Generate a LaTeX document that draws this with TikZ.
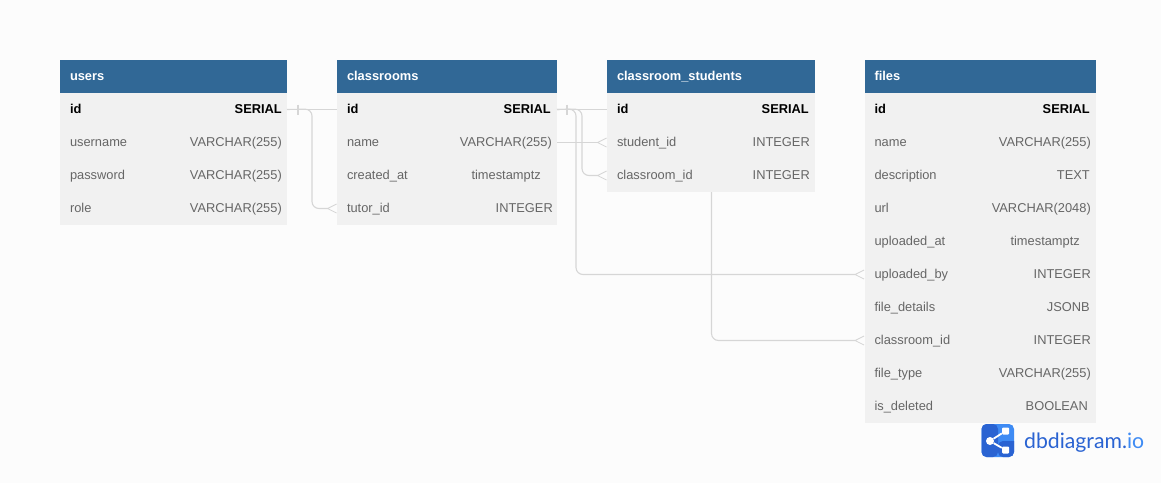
\documentclass[tikz,border=0pt]{standalone}
\usepackage{fontspec}
\setmainfont{Liberation Sans}
\newfontfamily\logofont{Lato}
\usetikzlibrary{arrows.meta,calc}
\definecolor{pagebg}{HTML}{FCFCFC}
\definecolor{headblue}{HTML}{316896}
\definecolor{rowgray}{HTML}{F1F1F1}
\definecolor{textgray}{HTML}{666666}
\definecolor{linegray}{HTML}{D6D6D6}
\definecolor{logodark}{HTML}{2A63D2}
\definecolor{logolight}{HTML}{3E8BF4}
\tikzset{
  head/.style={anchor=north west,fill=headblue,text=white,font=\fontsize{12.85}{15}\selectfont\bfseries,minimum height=33pt,inner xsep=10pt,inner ysep=0pt,outer sep=0pt,text height=10pt,text depth=2pt,align=left},
  row/.style={anchor=north west,fill=rowgray,text=textgray,font=\fontsize{12.85}{15}\selectfont,minimum height=33pt,inner xsep=10pt,inner ysep=0pt,outer sep=0pt,text height=10pt,text depth=2pt,align=left},
  keyrow/.style={row,text=black,font=\fontsize{12.85}{15}\selectfont\bfseries},
  kind/.style={anchor=east,text=textgray,font=\fontsize{12.85}{15}\selectfont,inner sep=0pt,text height=10pt,text depth=2pt},
  keykind/.style={kind,text=black,font=\fontsize{12.85}{15}\selectfont\bfseries},
  link/.style={draw=linegray,line width=1.1pt,rounded corners=7pt},
  many/.style={link,-{Straight Barb[reversed,length=9pt,width=9pt,line width=0.8pt]}},
  bar/.style={draw=linegray,line width=1.1pt},
}
\begin{document}
\begin{tikzpicture}[x=1pt,y=-1pt]
        \useasboundingbox[fill=pagebg] (0,0) rectangle (1161,483);

        % users
        \node[head,text width=207pt] (users) at (60,60) {users};
        \node[keyrow,text width=207pt] (users_id) at (60,93) {id};
        \node[keykind] (users_id_t) at (282,109) {SERIAL};
        \node[row,text width=207pt] (users_username) at (60,126) {username};
        \node[kind] (users_username_t) at (282,142) {VARCHAR(255)};
        \node[row,text width=207pt] (users_password) at (60,159) {password};
        \node[kind] (users_password_t) at (282,175) {VARCHAR(255)};
        \node[row,text width=207pt] (users_role) at (60,192) {role};
        \node[kind] (users_role_t) at (282,208) {VARCHAR(255)};

        % classrooms
        \node[head,text width=200pt] (classrooms) at (337,60) {classrooms};
        \node[keyrow,text width=200pt] (classrooms_id) at (337,93) {id};
        \node[keykind] (classrooms_id_t) at (551,109) {SERIAL};
        \node[row,text width=200pt] (classrooms_name) at (337,126) {name};
        \node[kind] (classrooms_name_t) at (552,142) {VARCHAR(255)};
        \node[row,text width=200pt] (classrooms_created) at (337,159) {created\_at};
        \node[kind] (classrooms_created_t) at (541,175) {timestamptz};
        \node[row,text width=200pt] (classrooms_tutor) at (337,192) {tutor\_id};
        \node[kind] (classrooms_tutor_t) at (553,208) {INTEGER};

        % classroom_students
        \node[head,text width=188pt] (students) at (607,60) {classroom\_students};
        \node[keyrow,text width=188pt] (students_id) at (607,93) {id};
        \node[keykind] (students_id_t) at (809,109) {SERIAL};
        \node[row,text width=188pt] (students_student) at (607,126) {student\_id};
        \node[kind] (students_student_t) at (810,142) {INTEGER};
        \node[row,text width=188pt] (students_classroom) at (607,159) {classroom\_id};
        \node[kind] (students_classroom_t) at (810,175) {INTEGER};

        % files
        \node[head,text width=211pt] (files) at (864.5,60) {files};
        \node[keyrow,text width=211pt] (files_id) at (864.5,93) {id};
        \node[keykind] (files_id_t) at (1090,109) {SERIAL};
        \node[row,text width=211pt] (files_name) at (864.5,126) {name};
        \node[kind] (files_name_t) at (1091,142) {VARCHAR(255)};
        \node[row,text width=211pt] (files_description) at (864.5,159) {description};
        \node[kind] (files_description_t) at (1090,175) {TEXT};
        \node[row,text width=211pt] (files_url) at (864.5,192) {url};
        \node[kind] (files_url_t) at (1091,208) {VARCHAR(2048)};
        \node[row,text width=211pt] (files_uploaded) at (864.5,225) {uploaded\_at};
        \node[kind] (files_uploaded_t) at (1080,241) {timestamptz};
        \node[row,text width=211pt] (files_by) at (864.5,258) {uploaded\_by};
        \node[kind] (files_by_t) at (1091,274) {INTEGER};
        \node[row,text width=211pt] (files_details) at (864.5,291) {file\_details};
        \node[kind] (files_details_t) at (1090,307) {JSONB};
        \node[row,text width=211pt] (files_classroom) at (864.5,324) {classroom\_id};
        \node[kind] (files_classroom_t) at (1091,340) {INTEGER};
        \node[row,text width=211pt] (files_type) at (864.5,357) {file\_type};
        \node[kind] (files_type_t) at (1091,373) {VARCHAR(255)};
        \node[row,text width=211pt] (files_deleted) at (864.5,390) {is\_deleted};
        \node[kind] (files_deleted_t) at (1088,406) {BOOLEAN};

        % Turning points
        \coordinate (users_turn) at (312,109);
        \coordinate (classrooms_turn) at (582,109);
        \coordinate (files_turn) at (576,109);
        \coordinate (students_drop) at (711.5,192);

        % Connectors
        \draw[link] (users_id.east) -- (classrooms_id.west);
        \draw[many] (users_id.east) -- (users_turn) -- (users_turn |- classrooms_tutor.west) -- (classrooms_tutor.west);
        \draw[bar] ($(users_id.east)+(11,-5)$) -- +(0,10);

        \draw[link] (classrooms_id.east) -- (students_id.west);
        \draw[many] (classrooms_name.east) -- (students_student.west);
        \draw[many] (classrooms_id.east) -- (classrooms_turn) -- (classrooms_turn |- students_classroom.west) -- (students_classroom.west);
        \draw[many] (classrooms_id.east) -- (files_turn) -- (files_turn |- files_by.west) -- (files_by.west);
        \draw[bar] ($(classrooms_id.east)+(10,-5)$) -- +(0,10);

        \draw[many] (students_drop) -- (students_drop |- files_classroom.west) -- (files_classroom.west);

        % Logo
        \fill[logolight,rounded corners=5pt] (981.5,424) rectangle (1014,457);
        \fill[logodark,rounded corners=5pt] (981.5,424) -- (998,424) -- (998,457) -- (981.5,457) -- cycle;
        \fill[logodark] (998,441) -- (1014,441) [rounded corners=5pt] -- (1014,457) -- (998,457) -- cycle;
        \node[circle,fill=white,inner sep=0pt,minimum size=8pt] (logo_hub) at (990,441) {};
        \node[rectangle,rounded corners=1pt,fill=white,inner sep=0pt,minimum size=7pt] (logo_top) at (1005.5,431) {};
        \node[rectangle,rounded corners=1pt,fill=white,inner sep=0pt,minimum size=7pt] (logo_low) at (1005.5,450) {};
        \draw[white,line width=1.8pt] (logo_top) -- (logo_hub) -- (logo_low);
        \node[anchor=base west,inner sep=0pt,font=\logofont\fontsize{21.2}{24}\selectfont,text=logodark] (logo_text) at (1024,448) {dbdiagram.\textcolor{logolight}{io}};
\end{tikzpicture}
\end{document}
